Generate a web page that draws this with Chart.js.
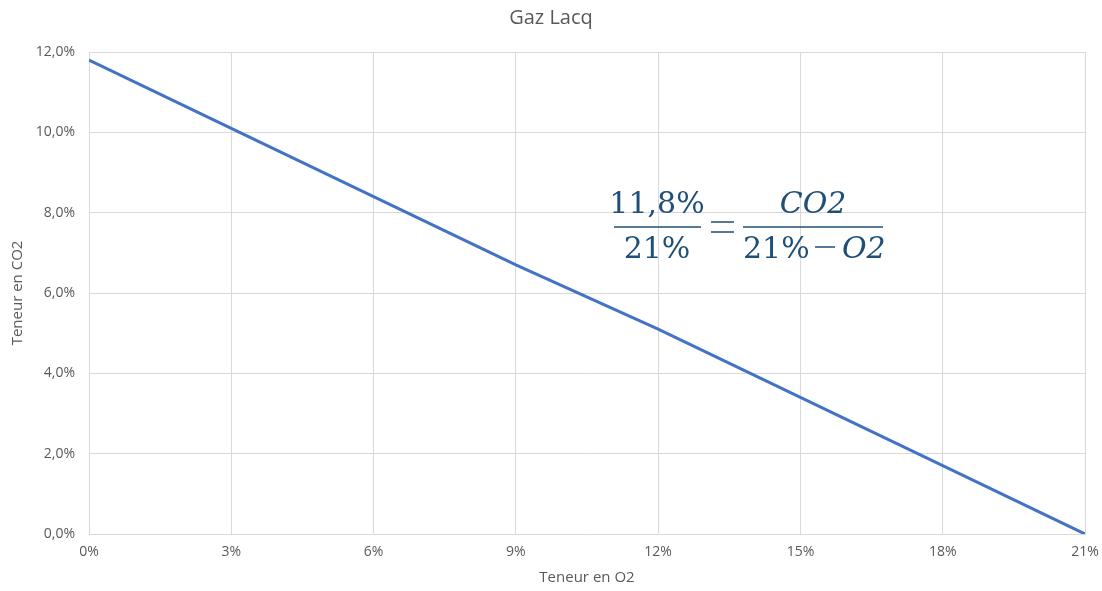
<!DOCTYPE html>
<html>
<head>
<meta charset="utf-8">
<script src="https://cdn.jsdelivr.net/npm/chart.js@4/dist/chart.umd.min.js"></script>
<style>
  html, body { margin: 0; padding: 0; background: #fff; }
  #wrap { width: 1102px; height: 591px; }
</style>
</head>
<body>
<div id="wrap"><canvas id="chart" width="1102" height="591"></canvas></div>
<script>
// teneur en O2 (%) et teneur en CO2 (%)
const o2Values = [0, 3, 6, 9, 12, 15, 18, 21];
const co2Values = [11.8, 10.1, 8.4, 6.7, 5.1, 3.4, 1.7, 0.0];

const xTicks = [0, 3, 6, 9, 12, 15, 18, 21];
const yTicks = [0, 2, 4, 6, 8, 10, 12];

const textGray = '#595959';
const gridGray = '#d9d9d9';
const uiFont = '"Open Sans", "Noto Sans", sans-serif';

// formule dessinee en texte sur le canvas
const formulaPlugin = {
    id: 'formula',
    afterDraw(chart) {
        const ctx = chart.ctx;
        ctx.save();
        ctx.fillStyle = '#1f4e79';
        ctx.strokeStyle = '#1f4e79';
        ctx.textAlign = 'center';
        ctx.textBaseline = 'alphabetic';
        const up = '30px "DejaVu Serif", "Liberation Serif", serif';
        const it = 'italic 30px "DejaVu Serif", "Liberation Serif", serif';

        // fraction gauche
        ctx.font = up;
        ctx.fillText('11,8%', 657, 213);
        ctx.fillText('21%', 657, 258);
        ctx.lineWidth = 1.5;
        ctx.beginPath();
        ctx.moveTo(614, 227);
        ctx.lineTo(701, 227);
        ctx.stroke();

        // signe egal
        ctx.beginPath();
        ctx.moveTo(711, 222); ctx.lineTo(734, 222);
        ctx.moveTo(711, 232); ctx.lineTo(734, 232);
        ctx.stroke();

        // fraction droite
        ctx.font = it;
        ctx.fillText('CO2', 813, 213);
        ctx.beginPath();
        ctx.moveTo(743, 227);
        ctx.lineTo(883, 227);
        ctx.stroke();

        ctx.textAlign = 'left';
        ctx.font = up;
        ctx.fillText('21%', 743, 258);
        // signe moins
        ctx.beginPath();
        ctx.moveTo(815, 247); ctx.lineTo(835, 247);
        ctx.stroke();
        ctx.font = it;
        ctx.fillText('O2', 842, 258);
        ctx.restore();
    }
};

new Chart(document.querySelector('#chart').getContext('2d'), {
    type: 'line',
    data: {
        labels: o2Values,
        datasets: [{
            label: 'Gaz Lacq',
            data: o2Values.map((x, i) => ({ x: x, y: co2Values[i] })),
            borderColor: '#4472c4',
            backgroundColor: '#4472c4',
            borderWidth: 3,
            pointRadius: 0,
            tension: 0
        }]
    },
    options: {
        responsive: false,
        animation: false,
        layout: { padding: { left: 0, right: 0, top: 0, bottom: 4 } },
        plugins: {
            legend: { display: false },
            tooltip: { enabled: false },
            title: {
                display: true,
                text: 'Gaz Lacq',
                color: textGray,
                font: { family: uiFont, size: 20, weight: 'normal' },
                padding: { top: 6, bottom: 22 }
            }
        },
        scales: {
            x: {
                type: 'linear',
                min: 0,
                max: 21,
                afterBuildTicks: axis => { axis.ticks = xTicks.map(v => ({ value: v })); },
                ticks: {
                    color: textGray,
                    font: { family: uiFont, size: 14 },
                    padding: 10,
                    maxRotation: 0,
                    callback: v => v + '%'
                },
                grid: { color: gridGray, drawTicks: false },
                border: { color: gridGray },
                title: {
                    display: true,
                    text: 'Teneur en O2',
                    color: textGray,
                    font: { family: uiFont, size: 15 },
                    padding: { top: 4, bottom: 0 }
                },
                afterFit: axis => { axis.height = 53; axis.paddingRight = 17; axis.paddingLeft = 0; }
            },
            y: {
                min: 0,
                max: 12,
                afterBuildTicks: axis => { axis.ticks = yTicks.map(v => ({ value: v })); },
                ticks: {
                    color: textGray,
                    font: { family: uiFont, size: 14 },
                    padding: 14,
                    callback: v => v.toFixed(1).replace('.', ',') + '%'
                },
                grid: { color: gridGray, drawTicks: false },
                border: { color: gridGray },
                title: {
                    display: true,
                    text: 'Teneur en CO2',
                    color: textGray,
                    font: { family: uiFont, size: 15 },
                    padding: { top: 9, bottom: 10 }
                },
                afterFit: axis => { axis.width = 89; }
            }
        }
    },
    plugins: [formulaPlugin]
});
</script>
</body>
</html>
